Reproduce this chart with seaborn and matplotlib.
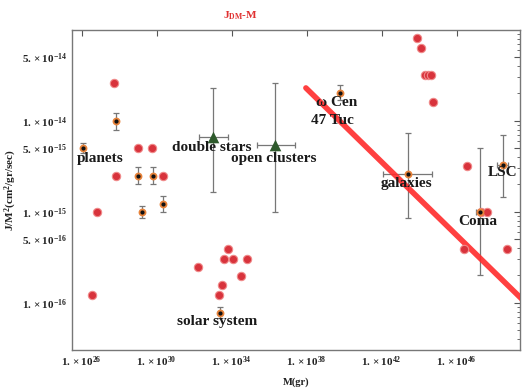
import numpy as np
import pandas as pd
import matplotlib
matplotlib.use("Agg")
import matplotlib.pyplot as plt
import matplotlib.ticker as mticker
import seaborn as sns

# red dots (individual objects)
red_mass = [3.5e26, 6.5e26, 5.2e27, 6.8e27, 1.0e29, 5.6e29, 2.2e30,
            1.6e32, 2.1e33, 3.0e33, 3.9e33, 6.3e33, 1.2e34, 3.2e34, 6.6e34,
            7.4e43, 1.2e44, 2.0e44, 3.0e44, 4.3e44, 5.4e44,
            2.5e46, 3.5e46, 2.0e47, 4.2e47, 4.9e48]
red_j = [1.2e-16, 1.0e-15, 2.6e-14, 2.5e-15, 5.0e-15, 5.0e-15, 2.5e-15,
         2.5e-16, 1.2e-16, 1.55e-16, 3.0e-16, 3.9e-16, 3.0e-16, 1.95e-16, 3.0e-16,
         8.1e-14, 6.3e-14, 3.2e-14, 3.2e-14, 3.2e-14, 1.6e-14,
         3.9e-16, 3.2e-15, 1.0e-15, 1.0e-15, 3.9e-16]

# orange points with error bars
or_mass = [1.2e26, 6.8e27, 1.0e29, 6.3e29, 1.7e29, 2.2e30, 2.3e33, 6.0e39, 2.5e43, 1.7e47, 3.0e48]
or_mass_lo = [1.2e26, 6.8e27, 1.0e29, 6.3e29, 1.7e29, 2.2e30, 2.3e33, 6.0e39, 1.2e42, 1.1e47, 1.4e48]
or_mass_hi = [1.2e26, 6.8e27, 1.0e29, 6.3e29, 1.7e29, 2.2e30, 2.3e33, 6.0e39, 4.8e44, 3.2e47, 5.4e48]
or_j = [5.0e-15, 1.0e-14, 2.5e-15, 2.5e-15, 1.0e-15, 1.23e-15, 7.8e-17, 2.0e-14, 2.6e-15, 1.0e-15, 3.3e-15]
or_j_lo = [4.4e-15, 7.9e-15, 2.0e-15, 2.0e-15, 8.5e-16, 1.0e-15, 6.8e-17, 1.7e-14, 8.5e-16, 2.0e-16, 1.45e-15]
or_j_hi = [5.7e-15, 1.23e-14, 3.1e-15, 3.1e-15, 1.17e-15, 1.5e-15, 8.9e-17, 2.5e-14, 7.4e-15, 5.0e-15, 6.9e-15]

# green triangles: double stars, open clusters
tri_mass = [1.0e33, 2.0e36]
tri_mass_lo = [1.8e32, 2.2e35]
tri_mass_hi = [6.3e33, 2.4e37]
tri_j = [6.6e-15, 5.4e-15]
tri_j_lo = [1.66e-15, 1.0e-15]
tri_j_hi = [2.3e-14, 2.6e-14]

# fit line
line_mass = [9.1e37, 3.0e49]
line_j = [2.3e-14, 1.1e-16]

# labels
label_text = ["planets", "double stars", "open clusters", "\u03c9 Cen", "47 Tuc",
              "galaxies", "Coma", "LSC", "solar system"]
label_mass = [9.5e26, 9.0e32, 1.8e36, 4.2e39, 2.5e39, 2.0e43, 1.35e47, 3.0e48, 1.6e33]
label_j = [3.9e-15, 5.1e-15, 3.9e-15, 1.6e-14, 1.02e-14, 2.05e-15, 7.8e-16, 2.7e-15, 6.2e-17]

x_ticks = [1e26, 1e30, 1e34, 1e38, 1e42, 1e46]
x_ticklabels = [r"$1.\times10^{%d}$" % e for e in [26, 30, 34, 38, 42, 46]]
y_ticks = [5e-14, 1e-14, 5e-15, 1e-15, 5e-16, 1e-16]
y_ticklabels = [r"$5.\times10^{-14}$", r"$1.\times10^{-14}$", r"$5.\times10^{-15}$",
                r"$1.\times10^{-15}$", r"$5.\times10^{-16}$", r"$1.\times10^{-16}$"]

sns.set_theme(style="white")
plt.rcParams['font.family'] = ['Liberation Serif', 'DejaVu Serif']
plt.rcParams['font.weight'] = 'bold'
plt.rcParams['mathtext.fontset'] = 'custom'
plt.rcParams['mathtext.rm'] = 'Liberation Serif:bold'
plt.rcParams['mathtext.it'] = 'Liberation Serif:bold:italic'
plt.rcParams['mathtext.bf'] = 'Liberation Serif:bold'

fig = plt.figure(figsize=(5.22, 3.88), dpi=100)
ax = fig.add_axes([0.138, 0.098, 0.858, 0.825])
ax.set_xscale('log')
ax.set_yscale('log')

red_df = pd.DataFrame({'M': red_mass, 'J': red_j})
sns.scatterplot(data=red_df, x='M', y='J', ax=ax, s=36, color='#d8333c',
                edgecolor='#f08a8a', linewidth=0.8, zorder=4)

sns.lineplot(x=line_mass, y=line_j, ax=ax, color='#ff2b2b', linewidth=4.0,
             alpha=0.9, zorder=3)

or_mass_a = np.array(or_mass)
or_j_a = np.array(or_j)
ax.errorbar(or_mass_a, or_j_a,
            yerr=[or_j_a - np.array(or_j_lo), np.array(or_j_hi) - or_j_a],
            xerr=[or_mass_a - np.array(or_mass_lo), np.array(or_mass_hi) - or_mass_a],
            fmt='none', ecolor='#777777', elinewidth=0.9, capsize=2, capthick=0.9, zorder=2)
sns.scatterplot(x=or_mass, y=or_j, ax=ax, s=32, color='#e8833a', linewidth=0, zorder=5)
sns.scatterplot(x=or_mass, y=or_j, ax=ax, s=9, color='#111111', linewidth=0, zorder=6)

tri_mass_a = np.array(tri_mass)
tri_j_a = np.array(tri_j)
ax.errorbar(tri_mass_a, tri_j_a,
            yerr=[tri_j_a - np.array(tri_j_lo), np.array(tri_j_hi) - tri_j_a],
            xerr=[tri_mass_a - np.array(tri_mass_lo), np.array(tri_mass_hi) - tri_mass_a],
            fmt='none', ecolor='#777777', elinewidth=0.9, capsize=2, capthick=0.9, zorder=2)
sns.scatterplot(x=tri_mass, y=tri_j, ax=ax, s=70, marker='^', color='#2e5a2c',
                linewidth=0, zorder=5)

for t, m, j in zip(label_text, label_mass, label_j):
    ax.text(m, j, t, ha='center', va='center', fontsize=11, fontweight='bold',
            color='#1a1a1a', zorder=7)

ax.set_xlim(10 ** 25.48, 10 ** 49.38)
ax.set_ylim(10 ** -16.52, 1e-13)
ax.xaxis.set_major_locator(mticker.FixedLocator(x_ticks))
ax.xaxis.set_major_formatter(mticker.FixedFormatter(x_ticklabels))
ax.xaxis.set_minor_locator(mticker.NullLocator())
ax.yaxis.set_major_locator(mticker.FixedLocator(y_ticks))
ax.yaxis.set_major_formatter(mticker.FixedFormatter(y_ticklabels))
ax.yaxis.set_minor_locator(mticker.LogLocator(base=10, subs=np.arange(2, 10)))
ax.yaxis.set_minor_formatter(mticker.NullFormatter())
ax.tick_params(which='both', direction='in', top=True, right=True, colors='#555555',
               labelcolor='#222222', labelsize=8)
ax.tick_params(which='major', length=4, width=0.8)
ax.tick_params(which='minor', length=2, width=0.6)
for s in ax.spines.values():
    s.set_color('#777777')
    s.set_linewidth(1.0)

ax.set_xlabel('M(gr)', fontsize=7.5, fontweight='bold', color='#222222', labelpad=6)
ax.set_ylabel(r'J/M$^2$(cm$^2$/gr/sec)', fontsize=8, fontweight='bold', color='#222222',
              labelpad=2)
ax.set_title(r'J$_{\rm DM}$-M', fontsize=8, fontweight='bold', color='#e03030', pad=8)
ax.title.set_position((0.375, 1.0))

fig.savefig('out.png', dpi=100)
